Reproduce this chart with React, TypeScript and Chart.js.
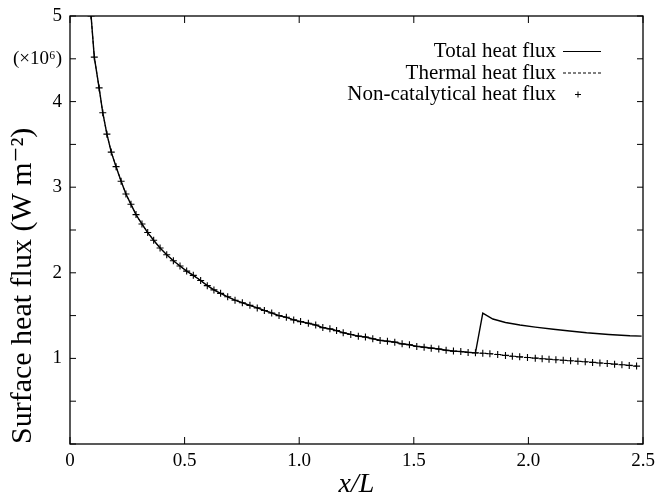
import { useEffect, useRef } from "react";
import { Chart, registerables } from "chart.js";

Chart.register(...registerables);

// x/L positions of the plotted nodes (markers)
const xNodes = [
  0.092, 0.106, 0.127, 0.143, 0.161, 0.18, 0.201, 0.223, 0.244, 0.266,
  0.288, 0.314, 0.339, 0.365, 0.393, 0.422, 0.451, 0.48, 0.509, 0.538,
  0.57, 0.599, 0.628, 0.657, 0.688, 0.72, 0.752, 0.785, 0.817, 0.848,
  0.88, 0.912, 0.944, 0.976, 1.006, 1.04, 1.072, 1.103, 1.134, 1.163,
  1.192, 1.225, 1.258, 1.289, 1.321, 1.353, 1.385, 1.417, 1.449, 1.481,
  1.513, 1.545, 1.576, 1.609, 1.641, 1.673, 1.705, 1.737, 1.769, 1.801,
  1.832, 1.866, 1.9, 1.93, 1.962, 1.996, 2.03, 2.06, 2.09, 2.12,
  2.152, 2.184, 2.216, 2.248, 2.28, 2.312, 2.344, 2.376, 2.408, 2.44,
  2.472,
];

// Non-catalytical heat flux (x10^6 W m^-2)
const nonCatalyticFlux = [
  5.0, 4.52, 4.16, 3.87, 3.62, 3.41, 3.24, 3.07, 2.92, 2.8,
  2.68, 2.57, 2.47, 2.38, 2.29, 2.21, 2.14, 2.08, 2.02, 1.97,
  1.91, 1.85, 1.8, 1.76, 1.72, 1.68, 1.65, 1.62, 1.59, 1.56,
  1.53, 1.5, 1.48, 1.45, 1.43, 1.41, 1.39, 1.36, 1.345, 1.325,
  1.3, 1.28, 1.26, 1.25, 1.23, 1.21, 1.2, 1.19, 1.17, 1.16,
  1.14, 1.13, 1.12, 1.11, 1.095, 1.085, 1.08, 1.07, 1.065, 1.06,
  1.055, 1.045, 1.035, 1.025, 1.018, 1.01, 1.003, 0.996, 0.99, 0.984,
  0.978, 0.972, 0.966, 0.96, 0.953, 0.947, 0.94, 0.933, 0.926, 0.918,
  0.91,
];

// Thermal heat flux (coincides with the non-catalytical curve)
const thermalFlux = [
  5.0, 4.52, 4.16, 3.87, 3.62, 3.41, 3.24, 3.07, 2.92, 2.8,
  2.68, 2.57, 2.47, 2.38, 2.29, 2.21, 2.14, 2.08, 2.02, 1.97,
  1.91, 1.85, 1.8, 1.76, 1.72, 1.68, 1.65, 1.62, 1.59, 1.56,
  1.53, 1.5, 1.48, 1.45, 1.43, 1.41, 1.39, 1.36, 1.345, 1.325,
  1.3, 1.28, 1.26, 1.25, 1.23, 1.21, 1.2, 1.19, 1.17, 1.16,
  1.14, 1.13, 1.12, 1.11, 1.095, 1.085, 1.08, 1.07, 1.065, 1.06,
  1.055, 1.045, 1.035, 1.025, 1.018, 1.01, 1.003, 0.996, 0.99, 0.984,
  0.978, 0.972, 0.966, 0.96, 0.953, 0.947, 0.94, 0.933, 0.926, 0.918,
  0.91,
];

// Total heat flux after the catalytic jump
const catalyticOnset = 1.769;
const totalJumpX = [1.801, 1.845, 1.9, 1.963, 2.03, 2.109, 2.18, 2.254, 2.35, 2.443, 2.494];
const totalJumpFlux = [1.53, 1.46, 1.42, 1.39, 1.365, 1.34, 1.32, 1.3, 1.28, 1.265, 1.26];

const xTickLabels = ["0", "0.5", "1.0", "1.5", "2.0", "2.5"];
const yTickLabels = ["", "", "1", "", "2", "", "3", "", "4", "(×10⁶)", "5"];
const legendLabels = ["Total heat flux", "Thermal heat flux", "Non-catalytical heat flux"];
const xTitle = "x/L";
const yTitle = "Surface heat flux (W m⁻²)";

const FONT = '"Liberation Serif", "DejaVu Serif", serif';

export default function App() {
  const ref = useRef<HTMLCanvasElement | null>(null);

  useEffect(() => {
    const canvas = ref.current;
    if (!canvas) return;

    const nonCat = xNodes.map((x, i) => ({ x, y: nonCatalyticFlux[i] }));
    const thermal = xNodes.map((x, i) => ({ x, y: thermalFlux[i] }));
    const total = [
      ...xNodes.filter((x) => x <= catalyticOnset).map((x, i) => ({ x, y: thermalFlux[i] })),
      ...totalJumpX.map((x, i) => ({ x, y: totalJumpFlux[i] })),
    ];

    const framePlugin = {
      id: "frameAndLegend",
      afterDraw(chart: any) {
        const { ctx, chartArea } = chart;
        const { left, right, top, bottom } = chartArea;
        const xs = chart.scales.x;
        const ys = chart.scales.y;
        ctx.save();
        ctx.strokeStyle = "#000";
        ctx.lineWidth = 1.3;
        ctx.setLineDash([]);
        ctx.strokeRect(left, top, right - left, bottom - top);
        ctx.lineWidth = 1;
        ctx.beginPath();
        xs.ticks.forEach((t: any) => {
          const px = xs.getPixelForValue(t.value);
          ctx.moveTo(px, bottom);
          ctx.lineTo(px, bottom - 7);
          ctx.moveTo(px, top);
          ctx.lineTo(px, top + 7);
        });
        ys.ticks.forEach((t: any) => {
          const py = ys.getPixelForValue(t.value);
          ctx.moveTo(left, py);
          ctx.lineTo(left + 6, py);
          ctx.moveTo(right, py);
          ctx.lineTo(right - 6, py);
        });
        ctx.stroke();

        // legend (gnuplot style: text right-aligned, sample on the right)
        const textRight = 556;
        const sampleL = 563;
        const sampleR = 601;
        const rows = [51.5, 73, 94.5];
        ctx.font = `21px ${FONT}`;
        ctx.fillStyle = "#000";
        ctx.textAlign = "right";
        ctx.textBaseline = "middle";
        legendLabels.forEach((label, i) => {
          ctx.fillText(label, textRight, rows[i]);
        });
        ctx.lineWidth = 1.2;
        ctx.beginPath();
        ctx.moveTo(sampleL, rows[0]);
        ctx.lineTo(sampleR, rows[0]);
        ctx.stroke();
        ctx.setLineDash([3, 2]);
        ctx.beginPath();
        ctx.moveTo(sampleL, rows[1]);
        ctx.lineTo(sampleR, rows[1]);
        ctx.stroke();
        ctx.setLineDash([]);
        ctx.lineWidth = 1;
        const cx = 578;
        const cy = rows[2];
        ctx.beginPath();
        ctx.moveTo(cx - 3, cy);
        ctx.lineTo(cx + 3, cy);
        ctx.moveTo(cx, cy - 3);
        ctx.lineTo(cx, cy + 3);
        ctx.stroke();
        ctx.restore();
      },
    };

    const chart = new Chart(canvas, {
      type: "scatter",
      data: {
        datasets: [
          {
            label: legendLabels[1],
            data: thermal,
            showLine: true,
            borderColor: "#000",
            borderWidth: 1,
            borderDash: [3, 2],
            pointRadius: 0,
            fill: false,
          },
          {
            label: legendLabels[0],
            data: total,
            showLine: true,
            borderColor: "#000",
            borderWidth: 1.4,
            pointRadius: 0,
            fill: false,
          },
          {
            label: legendLabels[2],
            data: nonCat,
            showLine: false,
            pointStyle: "cross",
            pointRadius: 3.5,
            borderColor: "#000",
            borderWidth: 1.1,
            backgroundColor: "#000",
          },
        ],
      },
      options: {
        responsive: false,
        animation: false,
        devicePixelRatio: 1,
        layout: { padding: { top: 16, right: 16, left: 0, bottom: 0 } },
        plugins: {
          legend: { display: false },
          tooltip: { enabled: false },
        },
        scales: {
          x: {
            type: "linear",
            min: 0,
            max: 2.5,
            afterFit: (s: any) => {
              s.height = 57;
              s.paddingLeft = 0;
              s.paddingRight = 0;
            },
            grid: { display: false, drawTicks: false },
            border: { display: false },
            ticks: {
              stepSize: 0.5,
              padding: 6,
              color: "#000",
              autoSkip: false,
              maxRotation: 0,
              font: { family: FONT, size: 19 },
              callback: (_v: any, i: number) => xTickLabels[i],
            },
            title: {
              display: true,
              text: xTitle,
              color: "#000",
              font: { family: FONT, size: 28, style: "italic", lineHeight: 1.2 },
              padding: { top: 0, bottom: 0 },
            },
          },
          y: {
            type: "linear",
            min: 0,
            max: 5,
            afterFit: (s: any) => {
              s.width = 70;
              s.paddingTop = 0;
              s.paddingBottom = 0;
            },
            grid: { display: false, drawTicks: false },
            border: { display: false },
            ticks: {
              stepSize: 0.5,
              padding: 8,
              color: "#000",
              autoSkip: false,
              font: { family: FONT, size: 19 },
              callback: (_v: any, i: number) => yTickLabels[i],
            },
            title: {
              display: true,
              text: yTitle,
              align: "start",
              color: "#000",
              font: { family: FONT, size: 30, lineHeight: 1.2 },
              padding: { top: 5, bottom: 0 },
            },
          },
        },
      },
      plugins: [framePlugin],
    } as any);

    return () => chart.destroy();
  }, []);

  return (
    <div style={{ position: "absolute", left: 0, top: 0, width: 659, height: 501, background: "#fff" }}>
      <canvas ref={ref} width={659} height={501} style={{ display: "block" }} />
    </div>
  );
}
